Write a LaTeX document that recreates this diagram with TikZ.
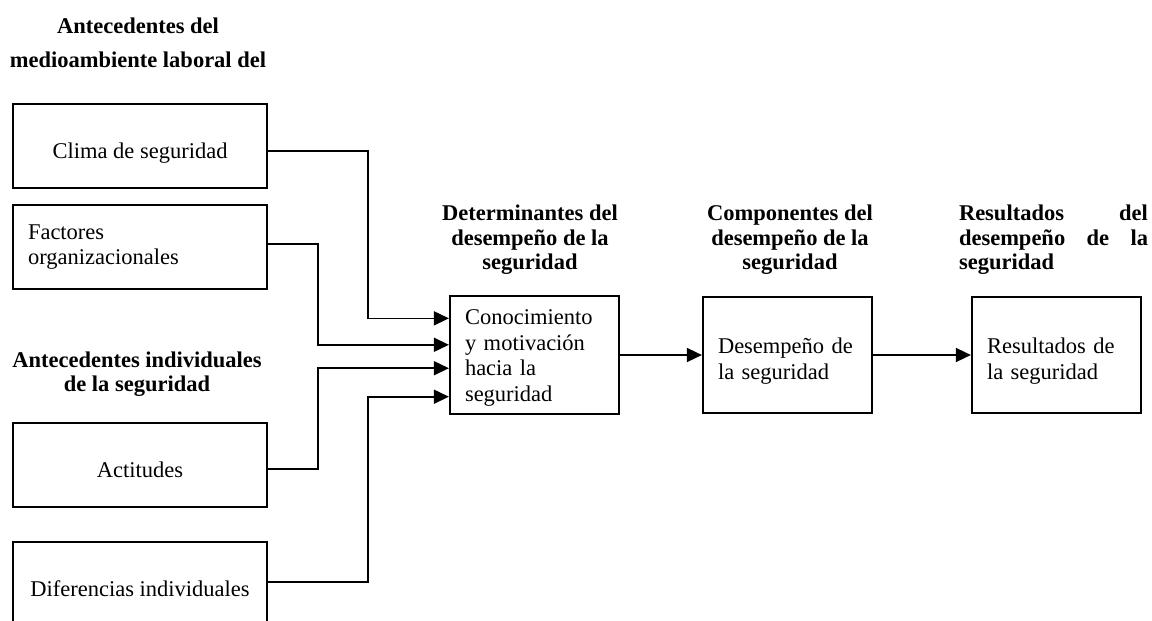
\documentclass[tikz,border=0pt]{standalone}
\usepackage{fontspec}
\setmainfont{Liberation Serif}
\usetikzlibrary{arrows.meta,calc}

\begin{document}
\begin{tikzpicture}[x=1pt,y=-1pt,
		caja/.style={draw=black,line width=2.2pt,minimum width=254pt,minimum height=84pt,inner sep=0pt,font=\fontsize{22.5}{25}\selectfont},
		cajac/.style={caja,text height=24pt,text depth=0pt},
		cajal/.style={caja,inner xsep=15pt,text width=224pt,align=left},
		bloque/.style={draw=black,line width=2.2pt,minimum width=169pt,minimum height=116pt,inner xsep=15pt,inner ysep=0pt,text width=139pt,align=left,font=\fontsize{22.5}{25.5}\selectfont},
		titulo/.style={align=center,inner sep=0pt,font=\bfseries\fontsize{22.5}{24.5}\selectfont},
		flecha/.style={line width=1.6pt,-{Triangle[length=15pt,width=14pt]}}]
	\useasboundingbox (0,0) rectangle (1152,621);

	% titulos
	\node[titulo,font=\bfseries\fontsize{22.5}{34}\selectfont] (tambiente) at (138,43) {Antecedentes del\\medioambiente laboral del};
	\node[titulo] (tindividual) at (137,374) {Antecedentes individuales\\de la seguridad};
	\node[titulo] (tdeterm) at (530,240) {Determinantes del\\desempeño de la\\seguridad};
	\node[titulo] (tcompon) at (790,240) {Componentes del\\desempeño de la\\seguridad};
	\node[titulo,align=justify,text width=189pt] (tresult) at (1053.5,240) {\tolerance=10000 Resultados del\linebreak desempeño de la\linebreak seguridad};

	% antecedentes
	\node[cajac] (clima) at (140,146) {Clima de seguridad};
	\node[cajal] (factores) at (140,247) {Factores\\organizacionales};
	\node[cajac] (actitudes) at (140,465) {Actitudes};
	\node[cajac] (diferencias) at (140,584) {Diferencias individuales};

	% cadena del desempeno
	\node[bloque,minimum height=118pt] (conoc) at (534.5,355) {\rule{0pt}{21pt}Conocimiento\\y motivación\\hacia la\\seguridad};
	\node[bloque] (desem) at (787.5,355) {\rule{0pt}{28pt}Desempeño de\\la seguridad};
	\node[bloque] (result) at (1056.5,355) {\rule{0pt}{28pt}Resultados de\\la seguridad};

	\coordinate (e1) at ($(conoc.north west)!0.195!(conoc.south west)$);
	\coordinate (e2) at ($(conoc.north west)!0.415!(conoc.south west)$);
	\coordinate (e3) at ($(conoc.north west)!0.61!(conoc.south west)$);
	\coordinate (e4) at ($(conoc.north west)!0.847!(conoc.south west)$);

	\draw[flecha] ([yshift=-5pt]clima.east) -- ++(100,0) |- (e1);
	\draw[flecha] ([yshift=3pt]factores.east) -- ++(50,0) |- (e2);
	\draw[flecha] ([yshift=-4pt]actitudes.east) -- ++(50,0) |- (e3);
	\draw[flecha] ([yshift=2pt]diferencias.east) -- ++(100,0) |- (e4);

	\draw[flecha] (conoc) -- (desem);
	\draw[flecha] (desem) -- (result);
\end{tikzpicture}
\end{document}
